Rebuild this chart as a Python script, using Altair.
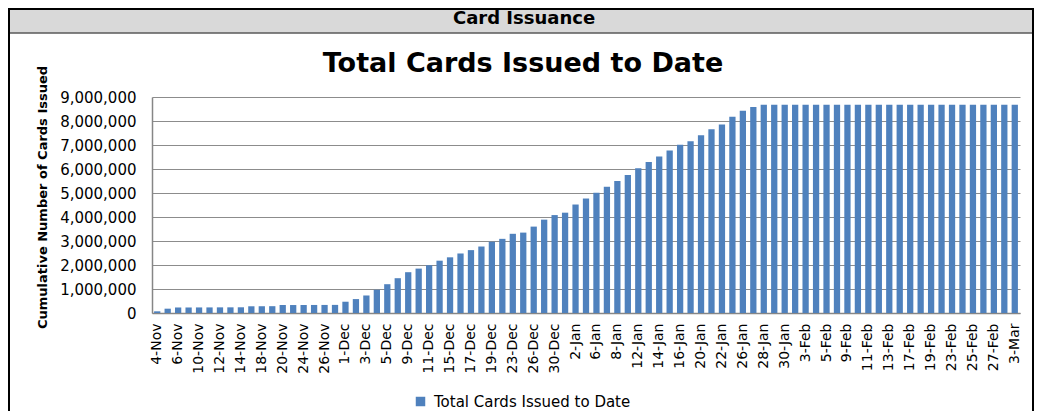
import altair as alt
import pandas as pd

dates = ["4-Nov", "5-Nov", "6-Nov", "7-Nov", "10-Nov", "11-Nov", "12-Nov", "13-Nov", "14-Nov",
         "17-Nov", "18-Nov", "19-Nov", "20-Nov", "21-Nov", "24-Nov", "25-Nov", "26-Nov", "28-Nov",
         "1-Dec", "2-Dec", "3-Dec", "4-Dec", "5-Dec", "8-Dec", "9-Dec", "10-Dec", "11-Dec", "12-Dec",
         "15-Dec", "16-Dec", "17-Dec", "18-Dec", "19-Dec", "22-Dec", "23-Dec", "24-Dec", "26-Dec",
         "29-Dec", "30-Dec", "31-Dec", "2-Jan", "5-Jan", "6-Jan", "7-Jan", "8-Jan", "9-Jan",
         "12-Jan", "13-Jan", "14-Jan", "15-Jan", "16-Jan", "19-Jan", "20-Jan", "21-Jan", "22-Jan",
         "23-Jan", "26-Jan", "27-Jan", "28-Jan", "29-Jan", "30-Jan", "2-Feb", "3-Feb", "4-Feb",
         "5-Feb", "6-Feb", "9-Feb", "10-Feb", "11-Feb", "12-Feb", "13-Feb", "16-Feb", "17-Feb",
         "18-Feb", "19-Feb", "20-Feb", "23-Feb", "24-Feb", "25-Feb", "26-Feb", "27-Feb", "2-Mar",
         "3-Mar"]

cards = [70000, 180000, 230000, 230000, 232000, 233000, 235000, 236000, 238000,
         280000, 282000, 284000, 330000, 332000, 334000, 335000, 336000, 338000,
         470000, 580000, 730000, 970000, 1200000, 1450000, 1700000, 1850000, 1990000, 2180000,
         2320000, 2480000, 2620000, 2770000, 2970000, 3090000, 3300000, 3350000, 3600000,
         3890000, 4080000, 4180000, 4520000, 4770000, 5010000, 5260000, 5500000, 5750000,
         6030000, 6290000, 6520000, 6770000, 7010000, 7160000, 7410000, 7660000, 7850000,
         8180000, 8430000, 8580000, 8680000, 8680000, 8680000, 8680000, 8680000, 8680000,
         8680000, 8680000, 8680000, 8680000, 8680000, 8680000, 8680000, 8680000, 8680000,
         8680000, 8680000, 8680000, 8680000, 8680000, 8680000, 8680000, 8680000, 8680000,
         8680000]

x_tick_labels = dates[::2]
y_tick_values = [0, 1000000, 2000000, 3000000, 4000000, 5000000, 6000000, 7000000, 8000000, 9000000]
series_name = "Total Cards Issued to Date"
header_text = "Card Issuance"
chart_title = "Total Cards Issued to Date"
y_title = "Cumulative Number of Cards Issued"

df = pd.DataFrame({"date": dates, "cards": cards, "series": series_name})
one = pd.DataFrame({"k": [0]})

FONT = "DejaVu Sans"
W, H = 868, 216

bars = alt.Chart(df).mark_bar().encode(
    x=alt.X("date:N", sort=dates,
            scale=alt.Scale(paddingInner=0.4, paddingOuter=0.2),
            axis=alt.Axis(title=None, values=x_tick_labels, labelAngle=270, labelOverlap=False,
                          ticks=False, labelPadding=10, labelFontSize=14, labelFont=FONT,
                          labelColor="#000000", domainColor="#868686", domainWidth=1.5)),
    y=alt.Y("cards:Q", scale=alt.Scale(domain=[0, 9000000], nice=False),
            axis=alt.Axis(title=y_title, values=y_tick_values, format=",d", grid=True,
                          gridColor="#8c8c8c", gridWidth=1, ticks=False, labelPadding=16,
                          labelFontSize=15, labelFont=FONT, labelColor="#000000",
                          domainColor="#868686", domainWidth=1.5,
                          titleFont=FONT, titleFontSize=13, titleFontWeight="bold",
                          titleColor="#000000", titleX=-110, titleY=100, titleAngle=270,
                          titleAlign="center", titleBaseline="middle")),
    color=alt.Color("series:N", scale=alt.Scale(range=["#4F81BD"]),
                    legend=alt.Legend(title=None, orient="none", legendX=261, legendY=297,
                                      symbolType="square", symbolSize=90, labelFontSize=15,
                                      labelFont=FONT, labelColor="#000000", labelOffset=6,
                                      labelLimit=0, symbolStrokeWidth=0)),
)

base = alt.Chart(one)
header_fill = base.mark_rect(fill="#D9D9D9").encode(
    x=alt.value(-144), x2=alt.value(881), y=alt.value(-89), y2=alt.value(-64))
header_line = base.mark_rule(color="#595959", strokeWidth=1.5).encode(
    x=alt.value(-144), x2=alt.value(881), y=alt.value(-64))
frame = base.mark_rect(fill="transparent", stroke="#000000", strokeWidth=2).encode(
    x=alt.value(-143), x2=alt.value(881), y=alt.value(-88), y2=alt.value(330))
header_label = base.mark_text(text=header_text, font=FONT, fontSize=18, fontWeight="bold",
                              align="center", baseline="middle", color="#000000").encode(
    x=alt.value(372), y=alt.value(-78))
title_label = base.mark_text(text=chart_title, font=FONT, fontSize=27, fontWeight="bold",
                             align="center", baseline="alphabetic", color="#000000").encode(
    x=alt.value(371), y=alt.value(-25))

chart = alt.layer(header_fill, header_line, bars, header_label, title_label, frame).properties(
    width=W, height=H,
    autosize=alt.AutoSizeParams(type="none"),
    padding={"left": 144, "top": 89, "right": 15, "bottom": 98},
    background="white",
).configure_view(stroke=None)

chart.save("out.html", embed_options={"renderer": "svg", "actions": False})
